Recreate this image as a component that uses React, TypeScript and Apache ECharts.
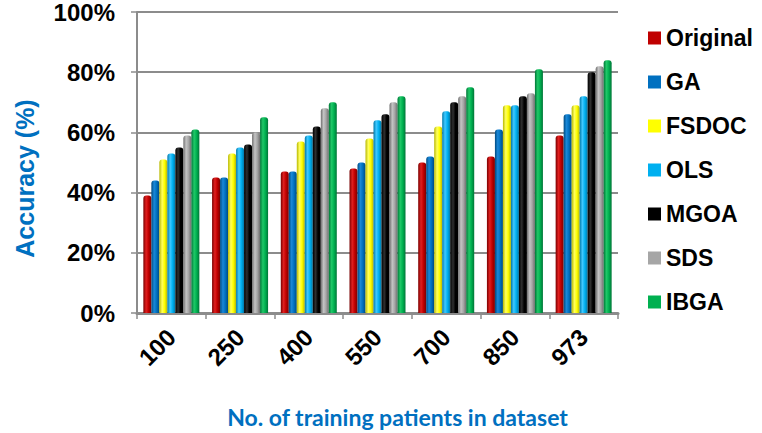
import React, { useEffect, useRef } from "react";
import * as echarts from "echarts";

const categories = ["100", "250", "400", "550", "700", "850", "973"];
const seriesNames = ["Original", "GA", "FSDOC", "OLS", "MGOA", "SDS", "IBGA"];
const original = [39, 45, 47, 48, 50, 52, 59];
const ga = [44, 45, 47, 50, 52, 61, 66];
const fsdoc = [51, 53, 57, 58, 62, 69, 69];
const ols = [53, 55, 59, 64, 67, 69, 72];
const mgoa = [55, 56, 62, 66, 70, 72, 80];
const sds = [59, 60, 68, 70, 72, 73, 82];
const ibga = [61, 65, 70, 72, 75, 81, 84];
const yTicks = [0, 20, 40, 60, 80, 100];

const seriesData = [original, ga, fsdoc, ols, mgoa, sds, ibga];
const baseColors = ["#C00000", "#0070C0", "#FFFF00", "#00B0F0", "#000000", "#A6A6A6", "#00B050"];
const darkColors = ["#7A0000", "#004A80", "#B8B800", "#0078A8", "#000000", "#6E6E6E", "#007537"];
const lightColors = ["#E02020", "#1A88D8", "#FFFF60", "#40C8FF", "#303030", "#C4C4C4", "#20C868"];

export default function App() {
  const ref = useRef<HTMLDivElement>(null);
  useEffect(() => {
    if (!ref.current) return;
    const chart = echarts.init(ref.current, null, { renderer: "svg" });
    const series = seriesNames.map((name, i) => ({
      name,
      type: "bar",
      data: seriesData[i],
      barWidth: 8,
      barGap: "0%",
      itemStyle: {
        borderRadius: [3, 3, 0, 0],
        color: new echarts.graphic.LinearGradient(0, 0, 1, 0, [
          { offset: 0, color: darkColors[i] },
          { offset: 0.35, color: lightColors[i] },
          { offset: 0.65, color: baseColors[i] },
          { offset: 1, color: darkColors[i] },
        ]),
      },
    }));
    chart.setOption({
      animation: false,
      backgroundColor: "#ffffff",
      grid: { left: 137, right: 144, top: 5, bottom: 116, containLabel: false },
      legend: {
        orient: "vertical",
        left: 643,
        top: 21,
        itemWidth: 13,
        itemHeight: 13,
        itemGap: 20,
        icon: "rect",
        textStyle: {
          fontFamily: "Liberation Sans, Arial, sans-serif",
          fontWeight: "bold",
          fontSize: 23,
          lineHeight: 24,
          color: "#000",
        },
        data: seriesNames.map((n, i) => ({ name: n, itemStyle: { color: baseColors[i] } })),
      },
      xAxis: {
        type: "category",
        data: categories,
        name: "No. of training patients in dataset",
        nameLocation: "middle",
        nameGap: 92,
        nameTextStyle: {
          fontFamily: "Lato, sans-serif",
          fontWeight: "bold",
          fontSize: 23,
          color: "#0070C0",
          padding: [0, 0, 0, 40],
        },
        axisLine: { lineStyle: { color: "#8C8C8C", width: 3 } },
        axisTick: { show: true, length: 6, lineStyle: { color: "#8C8C8C", width: 1.5 } },
        axisLabel: {
          rotate: 45,
          margin: 20,
          fontFamily: "Liberation Sans, Arial, sans-serif",
          fontWeight: "bold",
          fontSize: 24,
          color: "#000",
        },
      },
      yAxis: {
        type: "value",
        min: yTicks[0],
        max: yTicks[yTicks.length - 1],
        interval: 20,
        name: "Accuracy (%)",
        nameLocation: "middle",
        nameGap: 100,
        nameTextStyle: {
          fontFamily: "Liberation Sans, Arial, sans-serif",
          fontWeight: "bold",
          fontSize: 25,
          color: "#0070C0",
          padding: [0, 32, 0, 0],
        },
        axisLine: { show: true, lineStyle: { color: "#8C8C8C", width: 2 } },
        axisTick: { show: true, length: 6, lineStyle: { color: "#8C8C8C", width: 1.5 } },
        axisLabel: {
          formatter: "{value}%",
          margin: 22,
          padding: [14, 0, 0, 0],
          fontFamily: "Liberation Sans, Arial, sans-serif",
          fontWeight: "bold",
          fontSize: 24,
          color: "#000",
        },
        splitLine: { show: true, lineStyle: { color: "#8C8C8C", width: 2 } },
      },
      series,
    });
    return () => chart.dispose();
  }, []);
  return (
    <div
      ref={ref}
      style={{ position: "fixed", left: 0, top: 0, width: 762, height: 433 }}
    />
  );
}
